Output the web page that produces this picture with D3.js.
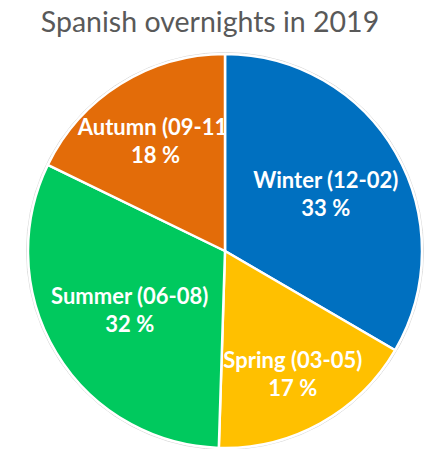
<!DOCTYPE html>
<html>
<head>
<meta charset="utf-8">
<script src="https://cdn.jsdelivr.net/npm/d3@7"></script>
<style>
  html, body { margin: 0; padding: 0; background: #ffffff; }
  svg { display: block; }
</style>
</head>
<body>
<svg id="chart" width="438" height="449"></svg>
<script>
// ---- data ----
const seasons = ["Winter (12-02)", "Spring (03-05)", "Summer (06-08)", "Autumn (09-11)"];
const shares  = [33.4, 17.1, 31.7, 17.8];
const colors  = ["#0070C0", "#FFC000", "#00C95E", "#E36C09"];
const title   = "Spanish overnights in 2019";

// ---- layout ----
const W = 438, H = 449;
const cx = 225, cy = 251, R = 197;
const labelFrac = [0.59, 0.71, 0.565, 0.665];

const svg = d3.select("#chart");

svg.append("text")
  .attr("x", 210).attr("y", 32)
  .attr("text-anchor", "middle")
  .attr("font-family", "Lato, 'Open Sans', sans-serif")
  .attr("font-size", 28.5)
  .attr("fill", "#595959")
  .text(title);

const data = seasons.map((s, i) => ({ name: s, value: shares[i], color: colors[i], i }));
const pie = d3.pie().value(d => d.value).sort(null);
const arcs = pie(data);
const arc = d3.arc().innerRadius(0).outerRadius(R);

const g = svg.append("g").attr("transform", `translate(${cx},${cy})`);

// faint outer ring
g.append("circle").attr("r", R + 1.5)
  .attr("fill", "none").attr("stroke", "#d9d9d9").attr("stroke-width", 1);

const defs = svg.append("defs");
arcs.forEach((a, i) => {
  defs.append("clipPath").attr("id", "clip" + i)
    .append("path").attr("d", arc(a));
});

g.selectAll("path.slice").data(arcs).join("path")
  .attr("class", "slice")
  .attr("d", arc)
  .attr("fill", d => d.data.color)
  .attr("stroke", "#ffffff")
  .attr("stroke-width", 2.5)
  .attr("stroke-linejoin", "round");

const total = d3.sum(shares);
const labels = g.selectAll("g.lab").data(arcs).join("g")
  .attr("class", "lab")
  .attr("clip-path", (d, i) => `url(#clip${i})`);

labels.each(function(d, i) {
  const ang = (d.startAngle + d.endAngle) / 2;
  const r = R * labelFrac[i];
  const x = Math.sin(ang) * r, y = -Math.cos(ang) * r;
  const t = d3.select(this).append("text")
    .attr("text-anchor", "middle")
    .attr("font-family", "Lato, 'Open Sans', sans-serif")
    .attr("font-weight", "bold")
    .attr("font-size", 22)
    .attr("fill", "#ffffff");
  t.append("tspan").attr("x", x).attr("y", y - 5).text(d.data.name);
  t.append("tspan").attr("x", x).attr("y", y + 23)
    .text(Math.round(d.data.value / total * 100) + " %");
});
</script>
</body>
</html>
